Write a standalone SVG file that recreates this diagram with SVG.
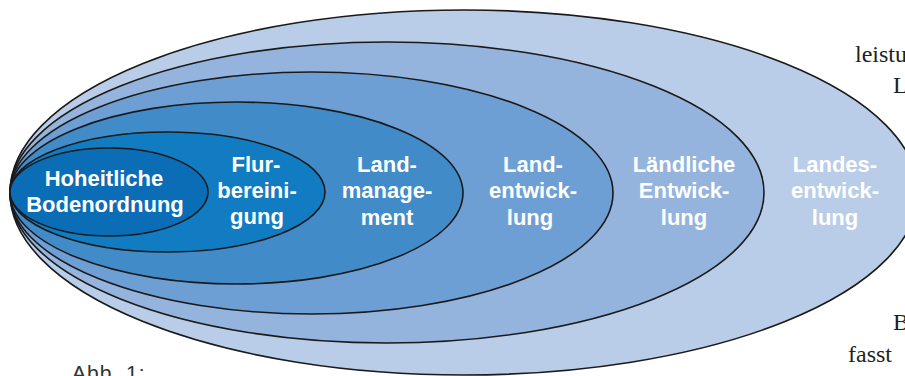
<svg xmlns="http://www.w3.org/2000/svg" width="905" height="376" viewBox="0 0 905 376">
<style>
.e{stroke:#1a1a1a;stroke-width:1.6}
.l{font-family:"Liberation Sans",Arial,sans-serif;font-weight:bold;font-size:22px;fill:#fff;text-anchor:middle}
.b{font-family:"Liberation Serif","Times New Roman",serif;font-size:24px;fill:#231f20}
</style>
<rect width="905" height="376" fill="#fff"/>
<g id="landesentwicklung">
<ellipse class="e" cx="464" cy="192.5" rx="454" ry="182.5" fill="#b9cde8"/>
<text class="l" x="835" y="172">Landes-</text>
<text class="l" x="835" y="198">entwick-</text>
<text class="l" x="835" y="225">lung</text>
</g>
<g id="laendliche-entwicklung">
<ellipse class="e" cx="387" cy="192.5" rx="377" ry="150.5" fill="#94b4dd"/>
<text class="l" x="684" y="172">Ländliche</text>
<text class="l" x="684" y="198">Entwick-</text>
<text class="l" x="684" y="225">lung</text>
</g>
<g id="landentwicklung">
<ellipse class="e" cx="311.5" cy="193" rx="301.5" ry="121" fill="#6d9fd4"/>
<text class="l" x="533" y="172">Land-</text>
<text class="l" x="533" y="198">entwick-</text>
<text class="l" x="530" y="225">lung</text>
</g>
<g id="landmanagement">
<ellipse class="e" cx="236.5" cy="193" rx="226.5" ry="91" fill="#418bc8"/>
<text class="l" x="387" y="172">Land-</text>
<text class="l" x="387" y="198">manage-</text>
<text class="l" x="387" y="225">ment</text>
</g>
<g id="flurbereinigung">
<ellipse class="e" cx="167.5" cy="192" rx="157.5" ry="60" fill="#117cc2"/>
<text class="l" x="256" y="172">Flur-</text>
<text class="l" x="257" y="198">bereini-</text>
<text class="l" x="257" y="224">gung</text>
</g>
<g id="hoheitliche-bodenordnung">
<ellipse class="e" cx="109" cy="192" rx="99" ry="44" fill="#0a6db5"/>
<text class="l" x="104" y="186">Hoheitliche</text>
<text class="l" x="105" y="212">Bodenordnung</text>
</g>
<g id="page-text">
<text class="b" x="855" y="62">leistu</text>
<text class="b" x="893" y="93">L</text>
<text class="b" x="893" y="330">B</text>
<text class="b" x="848" y="362">fasst</text>
<text x="72" y="380" font-family="'Liberation Sans',Arial,sans-serif" font-size="21" letter-spacing="1" fill="#333">Abb. 1:</text>
</g>
</svg>
